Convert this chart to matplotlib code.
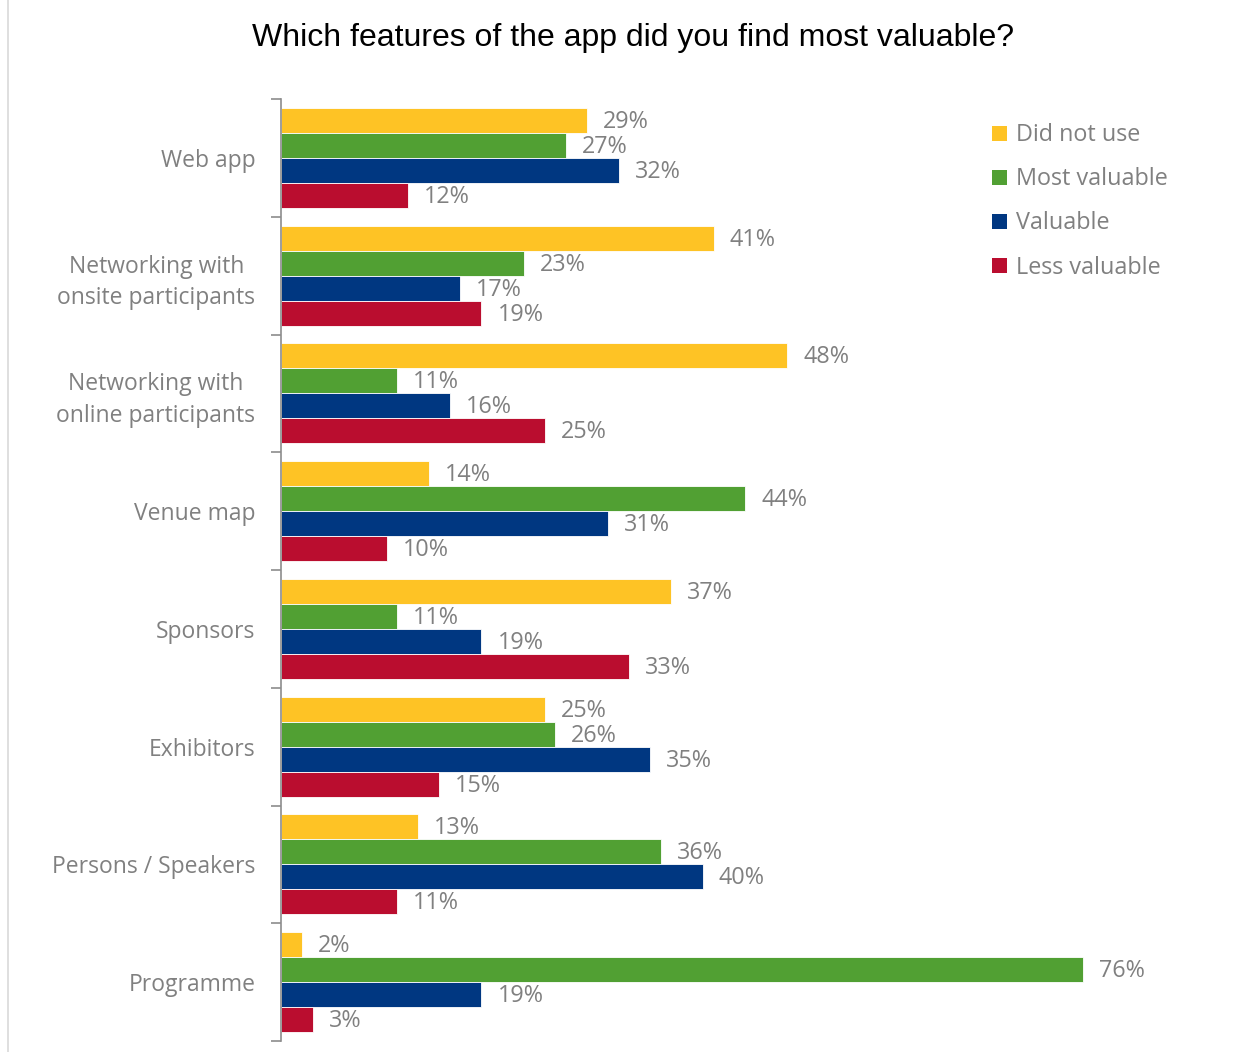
import matplotlib
matplotlib.use("Agg")
import matplotlib.pyplot as plt
from matplotlib.lines import Line2D
from matplotlib.patches import Patch
import numpy as np

categories = [
    "Web app",
    "Networking with\nonsite participants",
    "Networking with\nonline participants",
    "Venue map",
    "Sponsors",
    "Exhibitors",
    "Persons / Speakers",
    "Programme",
]
series_names = ["Did not use", "Most valuable", "Valuable", "Less valuable"]
did_not_use = [29, 41, 48, 14, 37, 25, 13, 2]
most_valuable = [27, 23, 11, 44, 11, 26, 36, 76]
valuable = [32, 17, 16, 31, 19, 35, 40, 19]
less_valuable = [12, 19, 25, 10, 33, 15, 11, 3]

colors = ["#FEC325", "#51A033", "#003781", "#BA0D2F"]
text_gray = "#808080"
axis_gray = "#8C8C8C"
label_font = ["Open Sans", "DejaVu Sans"]

W, H = 1259, 1052
fig = plt.figure(figsize=(W / 100, H / 100), dpi=100)
fig.patch.set_facecolor("white")

# plot area in pixel coordinates
left_px, right_px, top_px, bottom_px = 281, 1125, 99, 1041
ax = fig.add_axes([left_px / W, 1 - bottom_px / H,
                   (right_px - left_px) / W, (bottom_px - top_px) / H])

values = [did_not_use, most_valuable, valuable, less_valuable]
n = len(categories)
bar_h = 0.2123
y_centers = np.arange(n)

for k, (vals, col) in enumerate(zip(values, colors)):
    ys = y_centers + (k - 1.5) * bar_h
    ax.barh(ys, vals, height=bar_h, color=col, edgecolor="white", linewidth=0.6)
    for y, v in zip(ys, vals):
        ax.annotate(f"{v}%", xy=(v, y), xytext=(11.5, -1), textcoords="offset points",
                    ha="left", va="center", color=text_gray, fontsize=16.8,
                    family=label_font)

ax.set_xlim(0, 80)
ax.set_ylim(n - 0.5, -0.5)
ax.set_xticks([])

# category boundaries carry the tick marks; labels sit at the centers
ax.set_yticks(np.arange(n + 1) - 0.5)
ax.set_yticklabels([])
ax.tick_params(axis="y", length=7, width=1.2, color=axis_gray, direction="out")
ax.set_yticks(y_centers, minor=True)
ax.set_yticklabels(categories, minor=True, fontsize=16.5, color=text_gray,
                   family=label_font, multialignment="center", linespacing=1.42)
ax.tick_params(axis="y", which="minor", length=0, pad=18.5)

for side in ["top", "right", "bottom"]:
    ax.spines[side].set_visible(False)
ax.spines["left"].set_color(axis_gray)
ax.spines["left"].set_linewidth(1.2)

fig.text(633 / W, 1 - 38 / H, "Which features of the app did you find most valuable?",
         ha="center", va="center", fontsize=23, color="black",
         family=["Liberation Sans", "DejaVu Sans"])

handles = [Patch(facecolor=c, edgecolor="none") for c in colors]
leg = fig.legend(handles, series_names, loc="upper left",
                 bbox_to_anchor=(983 / W, 1 - 114 / H), frameon=False,
                 fontsize=16.8, handlelength=0.62, handleheight=0.62,
                 handletextpad=0.4, labelspacing=0.86, borderaxespad=0)
for t in leg.get_texts():
    t.set_color(text_gray)
    t.set_family(label_font)

# thin chart border on the left edge
fig.add_artist(Line2D([7.5 / W, 7.5 / W], [0, 1], color="#D9D9D9", linewidth=1.2,
                      transform=fig.transFigure))

fig.savefig("out.png", dpi=100, facecolor="white")
